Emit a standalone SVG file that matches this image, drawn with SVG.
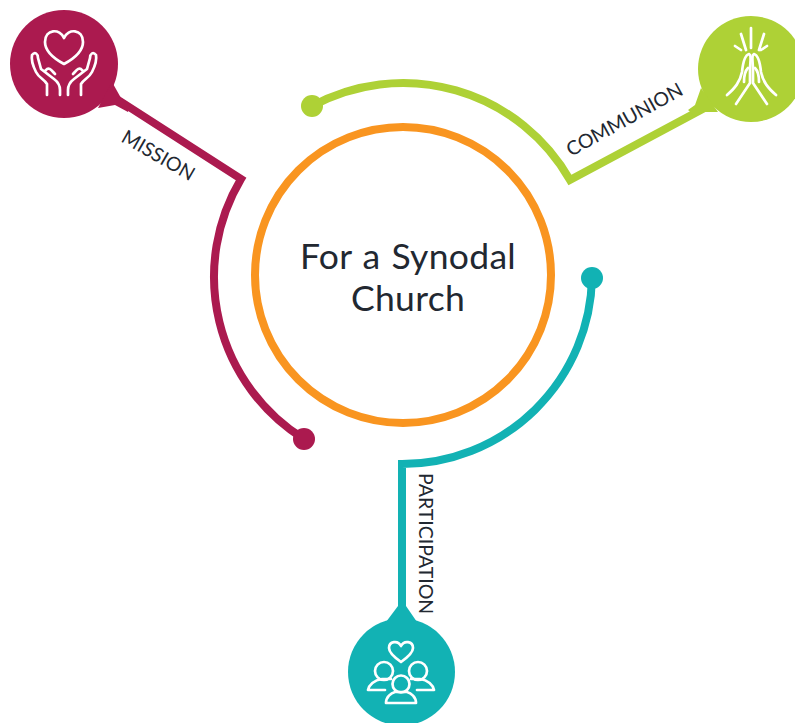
<svg xmlns="http://www.w3.org/2000/svg" width="795" height="723" viewBox="0 0 795 723">
<style>
.c{fill:none;stroke-width:8;stroke-linejoin:miter}
.i{fill:none;stroke:#fff;stroke-width:2.7;stroke-linecap:round;stroke-linejoin:round}
.l{font-family:"Lato","Liberation Sans",sans-serif;font-size:19.500px;fill:#222831}
.t{font-family:"Lato","Liberation Sans",sans-serif;font-size:35.500px;letter-spacing:.3px;word-spacing:1.500px;fill:#222831;text-anchor:middle}
</style>
<rect width="795" height="723" fill="#fff"/>
<g id="connectors">
<path class="c" stroke="#ab1a4f" d="M112 96L241 179A191 191 0 0 0 304 439"/>
<path class="c" stroke="#aed136" d="M312 106A192 192 0 0 1 570 180L712 104"/>
<path class="c" stroke="#12b2b4" d="M592 278A190 190 0 0 1 402 464V612"/>
</g>
<g id="center">
<circle cx="403" cy="275" r="148" fill="#fff" stroke="#f99520" stroke-width="8"/>
<text class="t" x="408" y="269">For a Synodal</text>
<text class="t" x="408" y="311">Church</text>
</g>
<g id="mission">
<circle cx="64" cy="64" r="54" fill="#ab1a4f"/>
<path d="M112 82L121 98L130 104L128 112L115 105L98 108Z" fill="#ab1a4f"/>
<circle cx="304" cy="439" r="11" fill="#ab1a4f"/>
<path class="i" d="M64 64C51 57 45 49 45 42C45 29 60 28 64 38C68 28 83 29 83 42C83 49 77 57 64 64Z"/>
<path class="i" d="M47 95V84C44 79 39 78 36 72C33 66 31 60 32 55C35 51 38 54 38 58L41 69L54 79C58 82 60 85 60 90V95"/>
<path class="i" d="M45 71L46 70C49 66 52 71 55 74"/>
<path class="i" d="M81 95V84C84 79 89 78 92 72C95 66 97 60 96 55C93 51 90 54 90 58L87 69L74 79C70 82 68 85 68 90V95"/>
<path class="i" d="M83 71L82 70C79 66 76 71 73 74"/>
<text class="l" transform="translate(120 141) rotate(30)">MISSION</text>
</g>
<g id="communion">
<circle cx="751" cy="69" r="53" fill="#aed136"/>
<path d="M701 88L695 105L688 110L695 116L700 112L718 112Z" fill="#aed136"/>
<circle cx="312" cy="106" r="11" fill="#aed136"/>
<path class="i" d="M751 28V48M741 34L746 50M764 34L759 50M735 46L741 50M767 46L761 50"/>
<path class="i" d="M727 95C735 88 740 82 742 72C743 62 745 55 749 54C752 55 750 62 750 70V83L736 104"/>
<path class="i" d="M776 95C768 88 763 82 761 72C760 62 758 55 754 54C751 55 753 62 753 70V83L767 104"/>
<path class="i" d="M744 82C744 76 745 71 748 68M759 82C759 76 758 71 755 68"/>
<text class="l" transform="translate(571 157) rotate(-29)">COMMUNION</text>
</g>
<g id="participation">
<circle cx="401.500" cy="672" r="53.500" fill="#12b2b4"/>
<path d="M398 606L386 622H417L406 606Z" fill="#12b2b4"/>
<circle cx="592" cy="278" r="11" fill="#12b2b4"/>
<path class="i" d="M401 662C394 657 389 652 389 648C389 641 398 640 401 646C404 640 413 641 413 648C413 652 408 657 401 662Z"/>
<circle class="i" cx="384" cy="671" r="9"/>
<circle class="i" cx="418" cy="671" r="9"/>
<circle class="i" cx="401" cy="684" r="8.500"/>
<path class="i" d="M391 679H382C374 680 369 685 368 690H385"/>
<path class="i" d="M411 679H420C428 680 433 685 434 690H417"/>
<path class="i" d="M386 703C386 697 391 693 395 692H407C411 693 416 697 416 703Z"/>
<text class="l" transform="translate(419 473) rotate(90)">PARTICIPATION</text>
</g>
</svg>
